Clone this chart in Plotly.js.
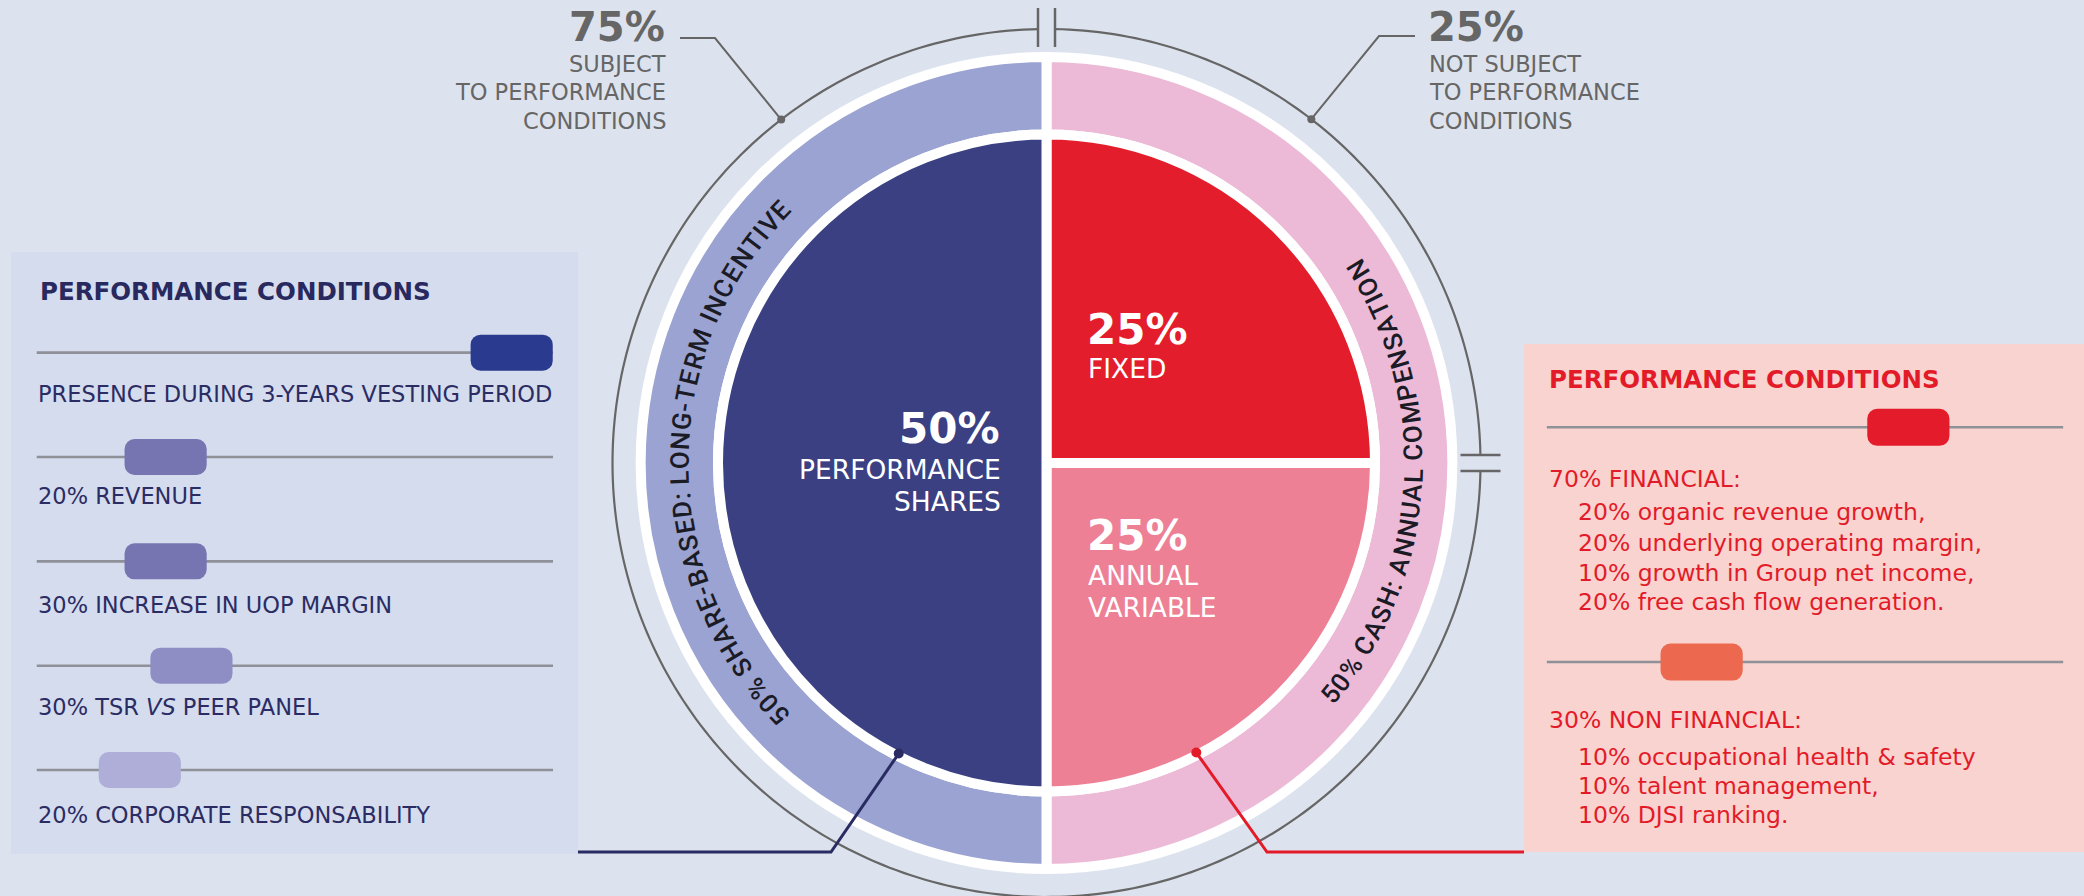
<!DOCTYPE html>
<html><head><meta charset="utf-8">
<script src="https://cdn.plot.ly/plotly-3.0.1.min.js"></script>
<style>html,body{margin:0;padding:0;background:#dde3ee;} #chart{width:2084px;height:896px;}</style>
</head><body><div id="chart"></div>
<script>
// ---------------- data ----------------
const mixLabels = ['FIXED', 'ANNUAL VARIABLE', 'PERFORMANCE SHARES'];
const mixValues = [25, 25, 50];
const ringLabels = ['50% CASH: ANNUAL COMPENSATION', '50% SHARE-BASED: LONG-TERM INCENTIVE'];
const ringValues = [50, 50];
const conditionShares = [75, 25];
const conditionTexts = [['SUBJECT', 'TO PERFORMANCE', 'CONDITIONS'], ['NOT SUBJECT', 'TO PERFORMANCE', 'CONDITIONS']];
const panelTitle = 'PERFORMANCE CONDITIONS';
const ltiConditions = ['PRESENCE DURING 3-YEARS VESTING PERIOD', '20% REVENUE', '30% INCREASE IN UOP MARGIN', '30% TSR <i>VS</i> PEER PANEL', '20% CORPORATE RESPONSABILITY'];
const ltiSlider = [92, 25, 25, 30, 20];
const stiGroups = ['70% FINANCIAL:', '30% NON FINANCIAL:'];
const stiSlider = [70, 30];
const stiFinancial = ['20% organic revenue growth,', '20% underlying operating margin,', '10% growth in Group net income,', '20% free cash flow generation.'];
const stiNonFinancial = ['10% occupational health & safety', '10% talent management,', '10% DJSI ranking.'];

// ---------------- styles / geometry ----------------
const W = 2084, H = 896, CX = 1046.5, CY = 463;
const R_PIE = 328.5, R_RING = 406, R_OUTER = 434, R_TEXT = 367;
const FONT = '"DejaVu Sans", Roboto, sans-serif';
const RING_FONT = 'Roboto';
const mixColors = ['#e31d2b', '#ee8096', '#3b4083'];
const ringColors = ['#ecbad7', '#9aa3d1'];
const ltiColors = ['#2a3a8f', '#7675b2', '#7675b2', '#8e8ec4', '#afaed8'];
const stiColors = ['#e41b2a', '#ec684f'];
const GREY = '#666666', NAVY = '#292b62', RED = '#e31b29', TRACK = '#8f9198';
const KNOB_W = 15.9;

const px = x => x / W;
const py = y => 1 - y / H;
const dom = r => ({x: [(CX - r) / W, (CX + r) / W], y: [(H - CY - r) / H, (H - CY + r) / H]});

// ---------------- traces ----------------
const traces = [];
traces.push({type: 'pie', values: ringValues, labels: ringLabels, sort: false, direction: 'clockwise', rotation: 0,
  hole: R_PIE / R_RING, marker: {colors: ringColors, line: {color: '#ffffff', width: 10}},
  textinfo: 'none', hoverinfo: 'skip', showlegend: false, domain: dom(R_RING)});
traces.push({type: 'pie', values: mixValues, labels: mixLabels, sort: false, direction: 'clockwise', rotation: 0,
  marker: {colors: mixColors, line: {color: '#ffffff', width: 10}},
  textinfo: 'none', hoverinfo: 'skip', showlegend: false, domain: dom(R_PIE)});

const ltiRows = ltiSlider.map((v, i) => i);
traces.push({type: 'bar', orientation: 'h', xaxis: 'x2', yaxis: 'y2', y: ltiRows, x: ltiRows.map(() => 100), base: 0,
  width: 0.025, marker: {color: TRACK, line: {width: 0}}, hoverinfo: 'skip', showlegend: false});
traces.push({type: 'bar', orientation: 'h', xaxis: 'x2', yaxis: 'y2', y: ltiRows, x: ltiSlider.map(() => KNOB_W),
  base: ltiSlider.map(v => v - KNOB_W / 2), width: 0.345,
  marker: {color: ltiColors, cornerradius: 10, line: {width: 0}}, hoverinfo: 'skip', showlegend: false});

const stiRows = stiSlider.map((v, i) => i);
traces.push({type: 'bar', orientation: 'h', xaxis: 'x3', yaxis: 'y3', y: stiRows, x: stiRows.map(() => 100), base: 0,
  width: 0.0107, marker: {color: TRACK, line: {width: 0}}, hoverinfo: 'skip', showlegend: false});
traces.push({type: 'bar', orientation: 'h', xaxis: 'x3', yaxis: 'y3', y: stiRows, x: stiSlider.map(() => KNOB_W),
  base: stiSlider.map(v => v - KNOB_W / 2), width: 0.158,
  marker: {color: stiColors, cornerradius: 10, line: {width: 0}}, hoverinfo: 'skip', showlegend: false});

// ---------------- shapes ----------------
const shapes = [];
shapes.push({type: 'rect', xref: 'paper', yref: 'paper', x0: px(11), x1: px(578), y0: py(252), y1: py(854),
  fillcolor: '#d4dcee', line: {width: 0}, layer: 'below'});
shapes.push({type: 'rect', xref: 'paper', yref: 'paper', x0: px(1524), x1: px(2084), y0: py(344), y1: py(852),
  fillcolor: '#f8d3cf', line: {width: 0}, layer: 'below'});

function arcPath(a0, a1, n) {
  let d = '';
  for (let i = 0; i <= n; i++) {
    const a = (a0 + (a1 - a0) * i / n) * Math.PI / 180;
    d += (i ? 'L' : 'M') + px(CX + R_OUTER * Math.cos(a)).toFixed(6) + ',' + py(CY - R_OUTER * Math.sin(a)).toFixed(6);
  }
  return d;
}
const gap = Math.asin(8 / R_OUTER) * 180 / Math.PI;
shapes.push({type: 'path', xref: 'paper', yref: 'paper', path: arcPath(gap, 90 - gap, 90), line: {color: '#666666', width: 2.2}});
shapes.push({type: 'path', xref: 'paper', yref: 'paper', path: arcPath(90 + gap, 360 - gap, 270), line: {color: '#666666', width: 2.2}});
function seg(x0, y0, x1, y1, color, w) {
  return {type: 'line', xref: 'paper', yref: 'paper', x0: px(x0), y0: py(y0), x1: px(x1), y1: py(y1), line: {color: color, width: w}};
}
shapes.push(seg(CX - 8.5, 8, CX - 8.5, 47, '#666666', 2.5));
shapes.push(seg(CX + 8.5, 8, CX + 8.5, 47, '#666666', 2.5));
shapes.push(seg(CX + R_OUTER - 20, CY - 8, CX + R_OUTER + 20, CY - 8, '#666666', 2.5));
shapes.push(seg(CX + R_OUTER - 20, CY + 8, CX + R_OUTER + 20, CY + 8, '#666666', 2.5));

function onCircle(x, y, r) {
  const a = Math.atan2(y - CY, x - CX);
  return [CX + r * Math.cos(a), CY + r * Math.sin(a)];
}
function leader(pts, color, w, dotR) {
  const d = pts.map((p, i) => (i ? 'L' : 'M') + px(p[0]).toFixed(6) + ',' + py(p[1]).toFixed(6)).join('');
  shapes.push({type: 'path', xref: 'paper', yref: 'paper', path: d, line: {color: color, width: w}, layer: 'above'});
  const e = pts[pts.length - 1];
  shapes.push({type: 'circle', xref: 'paper', yref: 'paper', x0: px(e[0] - dotR), x1: px(e[0] + dotR),
    y0: py(e[1] + dotR), y1: py(e[1] - dotR), fillcolor: color, line: {width: 0}, layer: 'above'});
}
leader([[680, 38], [715, 38], onCircle(780, 118, R_OUTER)], GREY, 2, 4);
leader([[1415, 36], [1379, 36], onCircle(1313, 117, R_OUTER)], GREY, 2, 4);
leader([[578, 852], [831, 852], onCircle(899, 753, 326)], NAVY, 3, 5);
leader([[1524, 852], [1267, 852], onCircle(1196, 752, 326)], RED, 3, 5);

// ---------------- annotations ----------------
const ann = [];
function txt(text, x, y, size, color, anchor, bold, extra) {
  ann.push(Object.assign({xref: 'paper', yref: 'paper', x: px(x), y: py(y), text: text, showarrow: false,
    xanchor: anchor, yanchor: 'middle', font: {family: FONT, size: size, color: color, weight: bold ? 700 : 400}}, extra || {}));
}
// top condition shares
txt(conditionShares[0] + '%', 667, 27, 40, GREY, 'right', true);
conditionTexts[0].forEach((t, i) => txt(t, 668, 64 + i * 28.5, 22.5, GREY, 'right', false));
txt(conditionShares[1] + '%', 1426, 27, 40, GREY, 'left', true);
conditionTexts[1].forEach((t, i) => txt(t, 1427, 64 + i * 28.5, 22.5, GREY, 'left', false));

// pie labels
const perfWords = mixLabels[2].split(' ');
txt(mixValues[2] + '%', 1002, 429, 42, '#ffffff', 'right', true);
perfWords.forEach((t, i) => txt(t, 1003, 469 + i * 32, 26.5, '#ffffff', 'right', false));
txt(mixValues[0] + '%', 1085, 329, 42, '#ffffff', 'left', true);
txt(mixLabels[0], 1086, 368, 26.5, '#ffffff', 'left', false);
const varWords = mixLabels[1].split(' ');
txt(mixValues[1] + '%', 1085, 535, 42, '#ffffff', 'left', true);
varWords.forEach((t, i) => txt(t, 1086, 575 + i * 32, 26.5, '#ffffff', 'left', false));

// curved ring texts
const ctx = document.createElement('canvas').getContext('2d');
function arcText(str, thStart, thEnd, r, size) {
  ctx.font = '500 ' + size + 'px ' + RING_FONT;
  const chars = [...str];
  const ws = chars.map(c => ctx.measureText(c).width);
  let acc = 0;
  const centers = ws.map(w => { const c = acc + w / 2; acc += w; return c; });
  const c0 = centers[0], c1 = centers[centers.length - 1];
  chars.forEach((ch, i) => {
    if (ch === ' ') return;
    const thd = thStart + (thEnd - thStart) * (centers[i] - c0) / (c1 - c0);
    const th = thd * Math.PI / 180;
    const angle = thEnd < thStart ? 90 - thd : -(thd + 90);
    ann.push({xref: 'paper', yref: 'paper', x: px(CX + r * Math.cos(th)), y: py(CY - r * Math.sin(th)), text: ch,
      textangle: angle, showarrow: false, xanchor: 'center', yanchor: 'middle',
      font: {family: RING_FONT, size: size, color: '#1b1b26', weight: 500}});
  });
}
arcText(ringLabels[1], 223.4, 136.4, R_TEXT, 26);
arcText(ringLabels[0], -39.1, 31.75, R_TEXT, 26);

// left panel
txt(panelTitle, 38, 291, 24.5, '#28295e', 'left', true);
const ltiY = [394, 496, 605, 707, 815];
ltiConditions.forEach((t, i) => txt(t, 36, ltiY[i], 22.5, '#2b2c63', 'left', false));

// right panel
txt(panelTitle, 1547, 380, 24.5, RED, 'left', true);
txt(stiGroups[0], 1547, 479, 23.5, RED, 'left', false);
const finY = [512, 543, 573, 602];
stiFinancial.forEach((t, i) => txt(t, 1576, finY[i], 23.5, RED, 'left', false));
txt(stiGroups[1], 1547, 720, 23.5, RED, 'left', false);
const nonY = [757, 786, 815];
stiNonFinancial.forEach((t, i) => txt(t, 1576, nonY[i], 23.5, RED, 'left', false));

// ---------------- layout ----------------
const layout = {
  width: W, height: H, margin: {l: 0, r: 0, t: 0, b: 0, pad: 0},
  paper_bgcolor: '#dde3ee', plot_bgcolor: 'rgba(0,0,0,0)',
  showlegend: false, barmode: 'overlay', hovermode: false,
  xaxis2: {domain: [36.5 / W, 553 / W], range: [0, 100], visible: false, fixedrange: true, anchor: 'y2'},
  yaxis2: {domain: [(H - 822.2) / H, (H - 300.5) / H], range: [4.5, -0.5], visible: false, fixedrange: true, anchor: 'x2'},
  xaxis3: {domain: [1546.6 / W, 2063.4 / W], range: [0, 100], visible: false, fixedrange: true, anchor: 'y3'},
  yaxis3: {domain: [(H - 779.45) / H, (H - 309.95) / H], range: [1.5, -0.5], visible: false, fixedrange: true, anchor: 'x3'},
  shapes: shapes, annotations: ann
};
Plotly.newPlot('chart', traces, layout, {displayModeBar: false, staticPlot: true});
</script></body></html>
